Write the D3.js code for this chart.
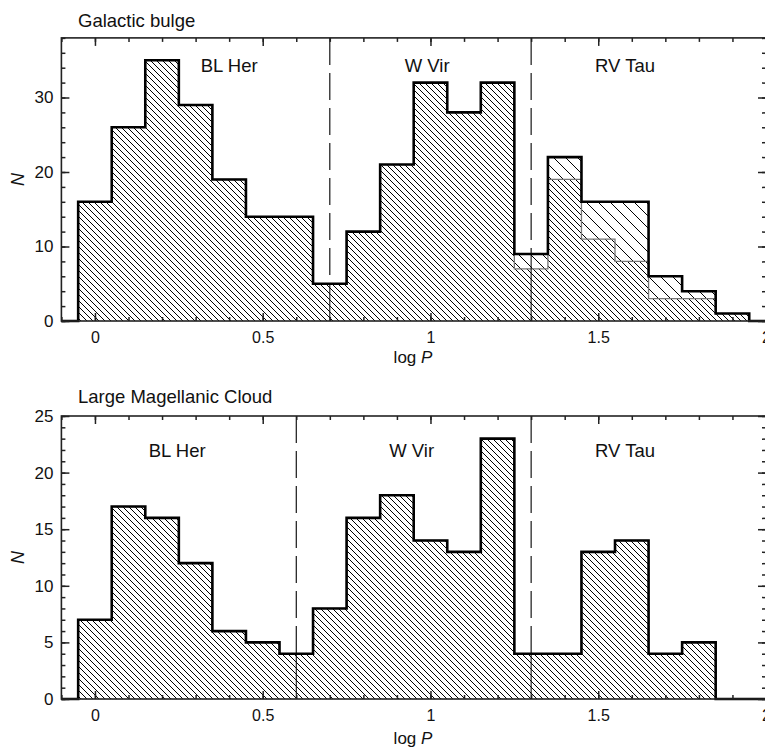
<html>
<head>
<title>Period distribution</title>
<script src="https://cdn.jsdelivr.net/npm/d3@7"></script>
<style>
  body { margin: 0; background: #fff; }
  text { font-family: "Liberation Sans", Arial, sans-serif; fill: #111; }
</style>
</head>
<body>
<script>
// bin centres in log P (bin width 0.1)
var binCenters = [0, 0.1, 0.2, 0.3, 0.4, 0.5, 0.6, 0.7, 0.8, 0.9,
                  1.0, 1.1, 1.2, 1.3, 1.4, 1.5, 1.6, 1.7, 1.8, 1.9];
var binWidth = 0.1;

// Galactic bulge: all stars, and the sub-sample (dense hatch)
var bulgeAll   = [16, 26, 35, 29, 19, 14, 14, 5, 12, 21, 32, 28, 32, 9, 22, 16, 16, 6, 4, 1];
var bulgeInner = [16, 26, 35, 29, 19, 14, 14, 5, 12, 21, 32, 28, 32, 7, 19, 11, 8, 3, 3, 1];

// LMC
var lmcCounts  = [7, 17, 16, 12, 6, 5, 4, 8, 16, 18, 14, 13, 23, 4, 4, 13, 14, 4, 5, 0];

// class boundaries (dashed lines)
var bulgeBounds = [0.7, 1.3];
var lmcBounds   = [0.6, 1.3];

var classNames  = ["BL Her", "W Vir", "RV Tau"];
var xTicks      = [0, 0.5, 1, 1.5, 2];
var xTickLabels = ["0", "0.5", "1", "1.5", "2"];

var W = 765, H = 747;
var svg = d3.select("body").append("svg")
    .attr("width", W)
    .attr("height", H);

// hatch patterns, lines going down to the right (45 deg)
var defs = svg.append("defs");
function hatch(id, s) {
    var p = defs.append("pattern")
        .attr("id", id)
        .attr("patternUnits", "userSpaceOnUse")
        .attr("width", s)
        .attr("height", s);
    p.append("path")
        .attr("d", "M-1,-1L" + (s + 1) + "," + (s + 1) +
                   "M" + (s - 1) + ",-1L" + (s + 1) + ",1" +
                   "M-1," + (s - 1) + "L1," + (s + 1))
        .attr("stroke", "#000")
        .attr("stroke-width", 1);
}
hatch("sparse", 12);
hatch("dense", 6);

var x = d3.scaleLinear().domain([-0.1, 2.0]).range([61.4, 766]);

function stepPoints(vals) {
    var pts = [[-0.1, 0]];
    binCenters.forEach(function(c, i) {
        pts.push([c - binWidth / 2, i === 0 ? 0 : vals[i - 1]]);
        pts.push([c - binWidth / 2, vals[i]]);
    });
    var last = binCenters[binCenters.length - 1] + binWidth / 2;
    pts.push([last, vals[vals.length - 1]]);
    pts.push([last, 0]);
    pts.push([2.0, 0]);
    return pts;
}

function drawPanel(opt) {
    var y = d3.scaleLinear().domain([0, opt.yMax]).range([opt.bottom, opt.top]);
    var g = svg.append("g");
    var line = d3.line().x(function(d) { return x(d[0]); }).y(function(d) { return y(d[1]); });

    // fills
    g.append("path")
        .attr("d", line(stepPoints(opt.outer)) + "Z")
        .attr("fill", "url(#sparse)");
    g.append("path")
        .attr("d", line(stepPoints(opt.inner)) + "Z")
        .attr("fill", "url(#dense)");
    g.append("path")
        .attr("d", line(stepPoints(opt.inner)))
        .attr("fill", "none")
        .attr("stroke", "#777")
        .attr("stroke-width", 1.3);

    // class boundaries: dashed above the bars, thin solid inside them
    opt.bounds.forEach(function(b) {
        var idx = Math.round(b / binWidth);
        var v = opt.outer[idx];
        g.append("line")
            .attr("x1", x(b)).attr("x2", x(b))
            .attr("y1", opt.top).attr("y2", y(v))
            .attr("stroke", "#000").attr("stroke-width", 1.1)
            .attr("stroke-dasharray", "27,8");
        g.append("line")
            .attr("x1", x(b)).attr("x2", x(b))
            .attr("y1", y(v)).attr("y2", opt.bottom)
            .attr("stroke", "#000").attr("stroke-width", 1);
    });

    // outline
    g.append("path")
        .attr("d", line(stepPoints(opt.outer)))
        .attr("fill", "none")
        .attr("stroke", "#000")
        .attr("stroke-width", 2.6);

    // frame
    g.append("rect")
        .attr("x", x(-0.1)).attr("y", opt.top)
        .attr("width", x(2.0) - x(-0.1)).attr("height", opt.bottom - opt.top)
        .attr("fill", "none").attr("stroke", "#222").attr("stroke-width", 1.6);

    // ticks (pointing inward on all four sides)
    var minorX = d3.range(-1, 21).map(function(i) { return i / 10; });
    var minorY = d3.range(0, opt.yMax + 0.1, opt.yMinor);
    function axis(gen, pos, size, vals) {
        var a = g.append("g").attr("transform", pos)
            .call(gen.tickValues(vals).tickSize(size));
        a.select(".domain").remove();
        a.selectAll("line").attr("stroke", "#222").attr("stroke-width", 1.5);
        return a;
    }
    axis(d3.axisTop(x).tickFormat(""), "translate(0," + opt.top + ")", -4, minorX);
    axis(d3.axisTop(x).tickFormat(""), "translate(0," + opt.top + ")", -8, xTicks);
    axis(d3.axisBottom(x).tickFormat(""), "translate(0," + opt.bottom + ")", -4, minorX);
    var xb = axis(d3.axisBottom(x).tickFormat(function(d, i) { return xTickLabels[i]; }).tickPadding(11),
        "translate(0," + opt.bottom + ")", -8, xTicks);
    xb.selectAll("text")
        .attr("font-size", 16)
        .attr("fill", "#111")
        .attr("font-family", function(d) { return d >= 1 ? "Liberation Serif, serif" : "Liberation Sans, sans-serif"; });

    axis(d3.axisRight(y).tickFormat(""), "translate(" + x(2.0) + ",0)", -4, minorY);
    axis(d3.axisRight(y).tickFormat(""), "translate(" + x(2.0) + ",0)", -8, opt.yTicks);
    axis(d3.axisLeft(y).tickFormat(""), "translate(" + x(-0.1) + ",0)", -4, minorY);
    var yl = axis(d3.axisLeft(y).tickPadding(8), "translate(" + x(-0.1) + ",0)", -8, opt.yTicks);
    yl.selectAll("text")
        .attr("font-size", 17)
        .attr("fill", "#111")
        .attr("font-family", "Liberation Sans, sans-serif");

    // title
    g.append("text")
        .attr("x", 78).attr("y", opt.titleY)
        .attr("font-size", 18.5)
        .text(opt.title);

    // class labels
    classNames.forEach(function(name, i) {
        g.append("text")
            .attr("x", x(opt.labelX[i]))
            .attr("y", y(opt.labelY))
            .attr("text-anchor", "middle")
            .attr("font-size", 18.5)
            .text(name);
    });

    // axis titles
    var xl = g.append("text")
        .attr("x", 413).attr("y", opt.xLabelY)
        .attr("text-anchor", "middle")
        .attr("font-size", 17);
    xl.append("tspan").text("log ");
    xl.append("tspan").attr("font-style", "italic").text("P");

    g.append("text")
        .attr("transform", "translate(24," + ((opt.top + opt.bottom) / 2) + ") rotate(-90)")
        .attr("text-anchor", "middle")
        .attr("font-size", 18)
        .attr("font-style", "italic")
        .text("N");
}

drawPanel({
    title: "Galactic bulge", titleY: 27,
    top: 37.9, bottom: 321, yMax: 38, yMinor: 2, yTicks: [0, 10, 20, 30],
    outer: bulgeAll, inner: bulgeInner, bounds: bulgeBounds,
    labelX: [0.4, 0.99, 1.58], labelY: 33.4, xLabelY: 363
});

drawPanel({
    title: "Large Magellanic Cloud", titleY: 403,
    top: 416, bottom: 699, yMax: 25, yMinor: 1, yTicks: [0, 5, 10, 15, 20, 25],
    outer: lmcCounts, inner: lmcCounts, bounds: lmcBounds,
    labelX: [0.245, 0.944, 1.58], labelY: 21.4, xLabelY: 744
});
</script>
</body>
</html>
